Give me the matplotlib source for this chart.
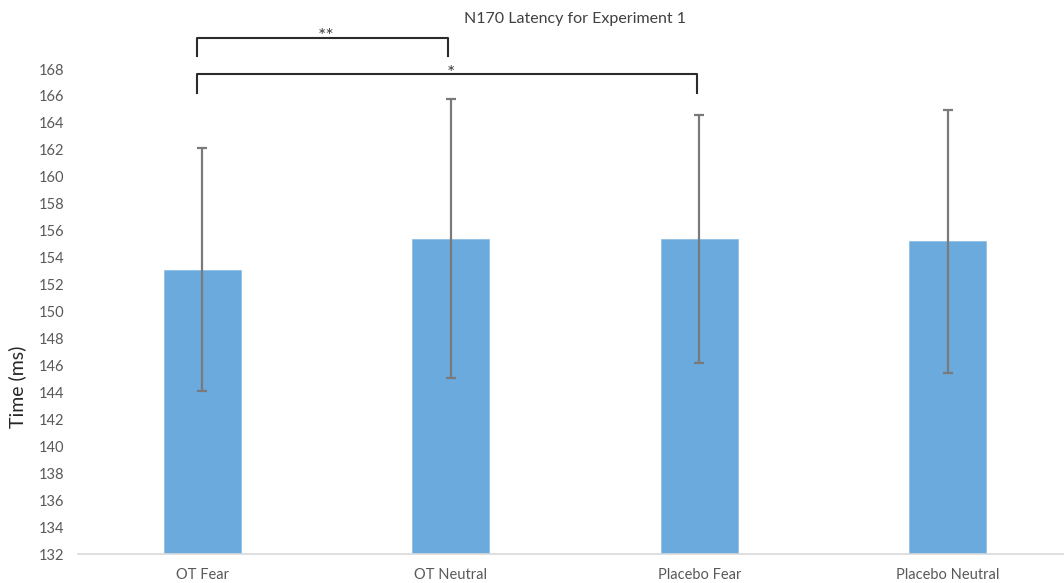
import matplotlib.pyplot as plt
import numpy as np

# data
conditions = ['OT Fear', 'OT Neutral', 'Placebo Fear', 'Placebo Neutral']
latency = [153.1, 155.4, 155.4, 155.2]
err = [9.0, 10.35, 9.2, 9.75]
y_ticks = list(range(132, 169, 2))

# significance brackets: (start, end, top, bottom, label)
brackets = [(0, 1, 170.3, 169.0, '**'), (0, 2, 167.6, 166.2, '*')]

plt.rcParams['font.family'] = ['Lato', 'DejaVu Sans']

fig = plt.figure(figsize=(10.64, 5.83), dpi=100)
W, H = 1064, 583
ax = fig.add_axes([78 / W, (H - 554) / H, 994 / W, 485 / H])

x = np.arange(len(conditions))
ax.bar(x, latency, width=0.31, color='#6aaadd', edgecolor='#8fc0e6', linewidth=0.6,
       yerr=err, error_kw=dict(ecolor='#7a7a7a', elinewidth=1.6, capsize=3.6, capthick=1.6))

ax.set_xlim(-0.5, 3.5)
ax.set_ylim(132, 168)
ax.set_yticks(y_ticks)
ax.set_xticks(x)
ax.set_xticklabels(conditions)
ax.tick_params(axis='both', length=0, labelsize=10.5, colors='#595959')
ax.tick_params(axis='x', pad=10)
ax.tick_params(axis='y', pad=10)
for s in ['top', 'right', 'left']:
    ax.spines[s].set_visible(False)
ax.spines['bottom'].set_color('#d9d9d9')
ax.spines['bottom'].set_linewidth(1.2)

ax.set_ylabel('Time (ms)', fontsize=14, color='#262626')
ax.yaxis.set_label_coords(-0.052, 0.345)
ax.set_title('N170 Latency for Experiment 1', fontsize=11.5, color='#404040', pad=33)

for x0, x1, top, bot, lab in brackets:
    xs = [x0 - 0.02, x0 - 0.02, x1 - 0.01, x1 - 0.01]
    ys = [bot, top, top, bot]
    ax.plot(xs, ys, color='#2b2b2b', lw=1.5, clip_on=False)
    ax.text((x0 + x1) / 2, top - 0.55, lab, ha='center', va='bottom',
            fontsize=14, color='#404040', clip_on=False)

fig.savefig('out.png', dpi=100)
